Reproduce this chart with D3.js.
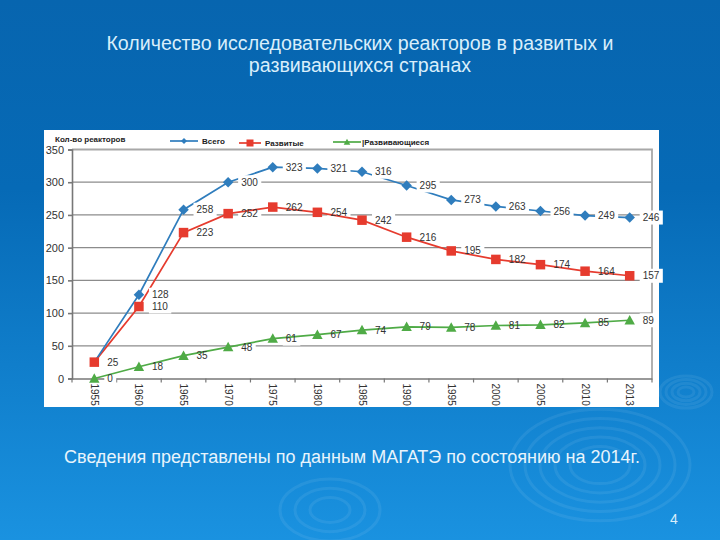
<!DOCTYPE html>
<html><head><meta charset="utf-8">
<script src="https://cdn.jsdelivr.net/npm/d3@7"></script>
<style>body{margin:0;padding:0;overflow:hidden}svg{display:block}</style>
</head><body>
<script>
const years = ["1955","1960","1965","1970","1975","1980","1985","1990","1995","2000","2005","2010","2013"];
const total = [25,128,258,300,323,321,316,295,273,263,256,249,246];
const developed = [25,110,223,252,262,254,242,216,195,182,174,164,157];
const developing = [0,18,35,48,61,67,74,79,78,81,82,85,89];
const yTicks = [0,50,100,150,200,250,300,350];
const seriesNames = ["Всего","Развитые","|Развивающиеся"];
const yAxisTitle = "Кол-во реакторов";
const titleLines = ["Количество исследовательских реакторов в развитых и","развивающихся странах"];
const footnote = "Сведения представлены по данным МАГАТЭ по состоянию на 2014г.";
const pageNum = "4";

const W=720,H=540;
const FONT="Liberation Sans, Arial, sans-serif";
const svg=d3.select("body").append("svg").attr("width",W).attr("height",H);
const defs=svg.append("defs");
const g1=defs.append("linearGradient").attr("id","bg").attr("x1",0).attr("y1",0).attr("x2",0).attr("y2",1);
g1.append("stop").attr("offset","0%").attr("stop-color","#0765af");
g1.append("stop").attr("offset","35%").attr("stop-color","#066ab6");
g1.append("stop").attr("offset","100%").attr("stop-color","#1a92e0");
svg.append("rect").attr("width",W).attr("height",H).attr("fill","url(#bg)");

// decorative ripples
const rip=svg.append("g").attr("fill","none").attr("stroke","#ffffff");
[[600,465,[30,45,60,75,90]],[330,510,[20,35,50]],[686,392,[8,14,20,26]],[860,380,[70,90]]].forEach(([cx,cy,rs])=>{
  rs.forEach(r=>rip.append("ellipse").attr("cx",cx).attr("cy",cy).attr("rx",r).attr("ry",r*0.62)
    .attr("stroke-opacity",0.07).attr("stroke-width",3));
});

// title
svg.append("g").selectAll("text").data(titleLines).join("text")
  .attr("x",360).attr("y",(d,i)=>43+i*22).attr("text-anchor","middle").attr("dominant-baseline","central")
  .attr("fill","#d9eefb").attr("font-family",FONT).attr("font-size",19.6)
  .text(d=>d);

// panel
svg.append("rect").attr("x",44).attr("y",130).attr("width",615).attr("height",277).attr("fill","#ffffff");

const x=d3.scaleBand().domain(years).range([72,652]).padding(0);
const y=d3.scaleLinear().domain([0,350]).range([378.5,149.5]);
const cx=d=>x(d)+x.bandwidth()/2;

// gridlines
svg.append("g").selectAll("line").data(yTicks.filter(t=>t>0&&t<350)).join("line")
  .attr("x1",72).attr("x2",652).attr("y1",d=>y(d)).attr("y2",d=>y(d))
  .attr("stroke","#8c8c8c").attr("stroke-width",1.2);
svg.append("path").attr("d",`M72,${y(350)}H652V${y(0)}`).attr("fill","none").attr("stroke","#a8a8a8").attr("stroke-width",1.8);

// axes
const yAxis=svg.append("g").attr("transform","translate(72,0)").call(d3.axisLeft(y).tickValues(yTicks).tickSize(4).tickPadding(4));
yAxis.selectAll("text").attr("font-family",FONT).attr("font-size",11).attr("fill","#333");
yAxis.selectAll("line,path").attr("stroke","#777").attr("stroke-width",1.6);
const xAxis=svg.append("g").attr("transform",`translate(0,${y(0)})`).call(d3.axisBottom(x).tickSize(0).tickPadding(0));
xAxis.select(".domain").attr("stroke","#777").attr("stroke-width",1.6);
xAxis.selectAll(".tick text").attr("transform","translate(0,5) rotate(90)").attr("text-anchor","start")
  .attr("x",0).attr("y",0).attr("dy","0.35em")
  .attr("font-family",FONT).attr("font-size",10).attr("fill","#333");
svg.append("g").selectAll("line").data(d3.range(years.length+1)).join("line")
  .attr("x1",i=>72+i*x.bandwidth()).attr("x2",i=>72+i*x.bandwidth())
  .attr("y1",y(0)).attr("y2",y(0)+4).attr("stroke","#777").attr("stroke-width",1.2);

const series=[
  {name:seriesNames[0],vals:total,color:"#2f7dbd",shape:"diamond"},
  {name:seriesNames[1],vals:developed,color:"#e63b2e",shape:"square"},
  {name:seriesNames[2],vals:developing,color:"#4fab46",shape:"triangle"}
];
const line=d3.line().x((d,i)=>cx(years[i])).y(d=>y(d));

function marker(sel,shape,size,color){
  if(shape==="diamond") sel.append("path").attr("d",`M0,${-size/2}L${size/2},0L0,${size/2}L${-size/2},0Z`).attr("fill",color);
  else if(shape==="square") sel.append("rect").attr("x",-size/2).attr("y",-size/2).attr("width",size).attr("height",size).attr("fill",color);
  else sel.append("path").attr("d",`M0,${-size*0.55}L${size*0.55},${size*0.45}L${-size*0.55},${size*0.45}Z`).attr("fill",color);
}

// label texts (measured first, placed later)
const bgLow=svg.append("g");      // backgrounds of red/green labels (under lines)
const linesG=svg.append("g");
const bgHigh=svg.append("g");     // backgrounds of blue labels (over lines)
const markG=svg.append("g");
const textG=svg.append("g");

series.forEach((s,si)=>{
  s.vals.forEach((v,i)=>{
    if(si===0&&i===0) return; // hidden beneath the red point
    const t=textG.append("text").attr("x",cx(years[i])+13).attr("y",y(v)).attr("dominant-baseline","central")
      .attr("font-family",FONT).attr("font-size",10).attr("fill","#333").text(v);
    const b=t.node().getBBox();
    (si===0?bgHigh:bgLow).append("rect").attr("x",b.x-3).attr("y",b.y-1.5).attr("width",b.width+6).attr("height",b.height+3).attr("fill","#fff");
  });
});
[series[2],series[1],series[0]].forEach(s=>{
  linesG.append("path").attr("d",line(s.vals)).attr("fill","none").attr("stroke",s.color).attr("stroke-width",1.7);
});
series.forEach(s=>{
  s.vals.forEach((v,i)=>{
    if(s.shape==="diamond"&&i===0) return;
    const m=markG.append("g").attr("transform",`translate(${cx(years[i])},${y(v)})`);
    marker(m,s.shape,s.shape==="diamond"?10.5:9.5,s.color);
  });
});

// legend
svg.append("text").attr("x",55).attr("y",139).attr("dominant-baseline","central")
  .attr("font-family",FONT).attr("font-size",8).attr("font-weight","bold").attr("fill","#222").text(yAxisTitle);
const leg=[{x1:170,x2:198,tx:202,yy:141},{x1:239,x2:261,tx:265,yy:143},{x1:333,x2:361,tx:362,yy:142}];
series.forEach((s,i)=>{
  const L=leg[i];
  svg.append("line").attr("x1",L.x1).attr("x2",L.x2).attr("y1",L.yy).attr("y2",L.yy).attr("stroke",s.color).attr("stroke-width",1.7);
  const m=svg.append("g").attr("transform",`translate(${(L.x1+L.x2)/2},${L.yy})`);
  marker(m,s.shape,s.shape==="diamond"?6:(s.shape==="square"?7:6),s.color);
  svg.append("text").attr("x",L.tx).attr("y",L.yy).attr("dominant-baseline","central")
    .attr("font-family",FONT).attr("font-size",8).attr("font-weight","bold").attr("fill","#222").text(s.name);
});

// footnote & page number
svg.append("text").attr("x",352).attr("y",457).attr("text-anchor","middle").attr("dominant-baseline","central")
  .attr("fill","#e8f4fc").attr("font-family",FONT).attr("font-size",18).text(footnote);
svg.append("text").attr("x",674).attr("y",519).attr("text-anchor","middle").attr("dominant-baseline","central")
  .attr("fill","#d9eefb").attr("font-family",FONT).attr("font-size",14).text(pageNum);
</script>
</body></html>
